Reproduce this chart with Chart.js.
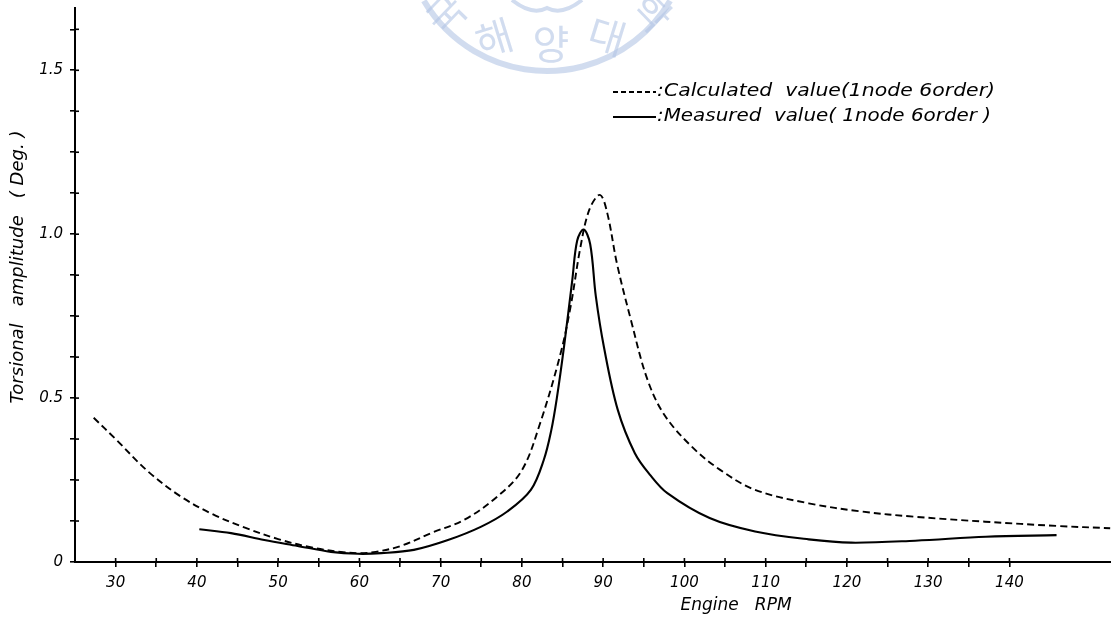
<!DOCTYPE html>
<html>
<head>
<meta charset="utf-8">
<script src="https://cdn.jsdelivr.net/npm/chart.js@4/dist/chart.umd.min.js"></script>
<style>
html,body{margin:0;padding:0;background:#fff;}
#wrap{width:1111px;height:623px;position:relative;}
</style>
</head>
<body>
<div id="wrap"><canvas id="c"></canvas></div>
<script>
// ---- data ----
const calcRpm = [27.3,30,34,38,42,46,50,54,58,60,62,65,69,73,77,80,82.2,84.7,86,87.2,88.3,89.6,90.5,91.7,93.4,95.4,97.5,100.9,104.4,108.7,115.3,121.8,128.4,137,145.8,152.4];
const calcAmp = [0.44,0.375,0.276,0.2,0.145,0.104,0.07,0.045,0.03,0.027,0.031,0.048,0.09,0.13,0.2,0.28,0.42,0.63,0.78,0.96,1.075,1.12,1.065,0.91,0.74,0.56,0.45,0.352,0.281,0.22,0.179,0.154,0.138,0.123,0.11,0.103];
const measRpm = [40.3,44.2,48.3,52.4,56.5,59.8,62.7,66.7,70.9,75,78.2,81.1,82.7,83.6,84.3,85.2,86.2,86.8,87.6,88.4,89.1,90.1,91.8,93.9,95.8,97.9,103.1,108.7,115.3,120.5,128.4,137.1,145.8];
const measAmp = [0.1,0.088,0.067,0.049,0.031,0.025,0.027,0.037,0.067,0.108,0.154,0.22,0.312,0.4,0.5,0.66,0.86,0.98,1.014,0.97,0.81,0.655,0.464,0.332,0.265,0.21,0.134,0.093,0.069,0.059,0.065,0.077,0.082];
const xTickLabels = [30,40,50,60,70,80,90,100,110,120,130,140];
const yTickLabels = {0:'0',0.5:'0.5',1:'1.0',1.5:'1.5'};
const seriesNames = ['Calculated  value(1node 6order)','Measured  value( 1node 6order )'];
const xTitle = 'Engine   RPM';
const yTitle = 'Torsional   amplitude   ( Deg. )';

const toXY = (xs, ys) => xs.map((x, i) => ({x: x, y: ys[i]}));
const FONT = '"DejaVu Sans", "Liberation Sans", sans-serif';

function fitText(ctx, text, x, y, width) {
  const w = ctx.measureText(text).width;
  ctx.save();
  ctx.translate(x, y);
  ctx.scale(width / w, 1);
  ctx.fillText(text, 0, 0);
  ctx.restore();
}

const extras = {
  id: 'extras',
  beforeDatasetsDraw(chart) {
    const ctx = chart.ctx;
    ctx.save();
    // faint watermark seal
    const wmc = 'rgba(178,197,228,0.6)';
    ctx.strokeStyle = wmc;
    ctx.fillStyle = wmc;
    ctx.lineWidth = 6;
    ctx.beginPath();
    ctx.arc(547, -72, 143, Math.PI * 0.17, Math.PI * 0.83);
    ctx.stroke();
    ctx.font = '40px "Noto Sans CJK KR", sans-serif';
    ctx.textAlign = 'center';
    ctx.textBaseline = 'middle';
    const wm = [['국', 446, 14, -0.8], ['해', 494, 38, -0.3], ['양', 551, 44, 0], ['대', 607, 36, 0.3], ['학', 652, 12, 0.8]];
    wm.forEach(([t, x, y, r]) => {
      ctx.save(); ctx.translate(x, y); ctx.rotate(r); ctx.fillText(t, 0, 0); ctx.restore();
    });
    ctx.lineWidth = 4;
    ctx.beginPath();
    ctx.moveTo(512, 0); ctx.quadraticCurveTo(532, 16, 547, 8); ctx.quadraticCurveTo(562, 16, 582, 0);
    ctx.stroke();
    ctx.restore();
  },
  afterDraw(chart) {
    const ctx = chart.ctx;
    const xs = chart.scales.x, ys = chart.scales.y;
    ctx.save();
    ctx.strokeStyle = '#000';
    ctx.lineWidth = 1.6;
    // inner half of the cross ticks
    xs.ticks.forEach(t => {
      const p = xs.getPixelForValue(t.value);
      ctx.beginPath(); ctx.moveTo(p, xs.top); ctx.lineTo(p, xs.top - 4); ctx.stroke();
    });
    ys.ticks.forEach(t => {
      if (t.value === 0) return;
      const p = ys.getPixelForValue(t.value);
      ctx.beginPath(); ctx.moveTo(ys.right, p); ctx.lineTo(ys.right + 4, p); ctx.stroke();
    });
    ctx.fillStyle = '#000';
    // axis titles
    ctx.font = 'italic 17px ' + FONT;
    ctx.textAlign = 'center';
    ctx.textBaseline = 'middle';
    ctx.fillText(xTitle, 736, 606);
    ctx.save();
    ctx.translate(18, 267);
    ctx.rotate(-Math.PI / 2);
    ctx.font = 'italic 18px ' + FONT;
    ctx.fillText(yTitle, 0, 0);
    ctx.restore();
    // legend
    const rows = [92, 117];
    ctx.font = 'italic 17px ' + FONT;
    ctx.textAlign = 'left';
    rows.forEach((y, i) => {
      ctx.beginPath();
      ctx.lineWidth = 1.8;
      ctx.setLineDash(i === 0 ? [5, 3] : []);
      ctx.moveTo(613, y); ctx.lineTo(656, y);
      ctx.stroke();
      ctx.setLineDash([]);
      fitText(ctx, ':' + seriesNames[i], 657, y, i === 0 ? 338 : 334);
    });
    ctx.restore();
  }
};

new Chart(document.getElementById('c'), {
  type: 'line',
  data: {
    datasets: [
      {
        label: seriesNames[0],
        data: toXY(calcRpm, calcAmp),
        borderColor: '#000',
        borderWidth: 1.9,
        borderDash: [7, 4],
        pointRadius: 0,
        fill: false,
        tension: 0.35
      },
      {
        label: seriesNames[1],
        data: toXY(measRpm, measAmp),
        borderColor: '#000',
        borderWidth: 2.1,
        pointRadius: 0,
        fill: false,
        tension: 0.35
      }
    ]
  },
  options: {
    responsive: true,
    maintainAspectRatio: false,
    animation: false,
    layout: {padding: {top: 8, right: 0, left: 0, bottom: 0}},
    plugins: {legend: {display: false}, tooltip: {enabled: false}},
    scales: {
      x: {
        type: 'linear',
        min: 25,
        max: 152.5,
        afterFit(s) { s.height = 61; s.paddingLeft = 0; s.paddingRight = 0; },
        afterBuildTicks(s) {
          const out = [];
          for (let v = xTickLabels[0]; v <= xTickLabels[xTickLabels.length - 1]; v += 5) out.push({value: v});
          s.ticks = out;
        },
        ticks: {
          autoSkip: false,
          maxRotation: 0,
          padding: 7,
          color: '#000',
          font: {family: FONT, style: 'italic', size: 15},
          callback: v => xTickLabels.includes(v) ? String(v) : ''
        },
        grid: {display: true, drawOnChartArea: false, drawTicks: true, tickLength: 5, color: '#000', lineWidth: 1.6},
        border: {display: true, color: '#000', width: 2}
      },
      y: {
        type: 'linear',
        min: 0,
        max: 1.69,
        afterFit(s) { s.width = 75; s.paddingTop = 0; s.paddingBottom = 0; },
        afterBuildTicks(s) {
          const out = [];
          for (let v = 0; v <= 1.63; v += 0.125) out.push({value: v});
          s.ticks = out;
        },
        ticks: {
          autoSkip: false,
          padding: 7,
          color: '#000',
          font: {family: FONT, style: 'italic', size: 15},
          callback: v => (v in yTickLabels) ? yTickLabels[v] : ''
        },
        grid: {display: true, drawOnChartArea: false, drawTicks: true, tickLength: 5, color: '#000', lineWidth: 1.6},
        border: {display: true, color: '#000', width: 2}
      }
    }
  },
  plugins: [extras]
});
</script>
</body>
</html>
